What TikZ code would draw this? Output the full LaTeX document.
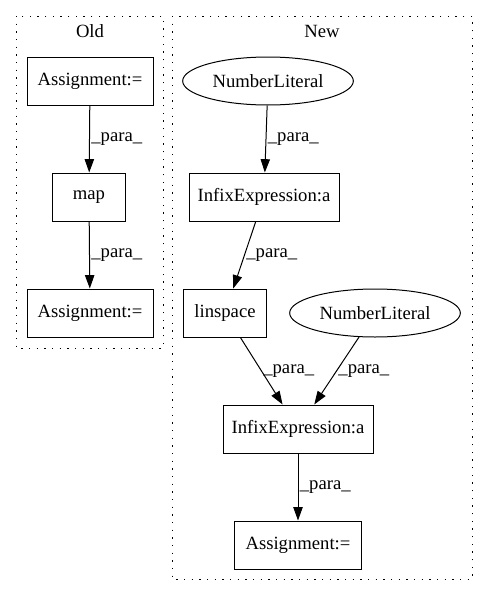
\documentclass[tikz,border=0pt]{standalone}
\usepackage{fontspec}
\setmainfont{Liberation Serif}
\usetikzlibrary{shapes.geometric,arrows.meta}

\begin{document}
\begin{tikzpicture}[
						x=0.75pt,
						y=-0.75pt,
						line width=0.75pt,
						>={Triangle[length=10pt,width=7pt]},
						font=\fontsize{14}{16}\selectfont,
						box/.style={draw, rectangle, minimum height=36pt, inner sep=0pt},
						lit/.style={draw, ellipse, minimum width=128pt, minimum height=36pt, inner sep=0pt},
						flow/.style={->},
						lbl/.style={anchor=west, inner sep=1pt},
						cluster/.style={draw, dash pattern=on 1pt off 4.75pt}
					]
					\useasboundingbox (0,0) rectangle (487,596);
					% clusters
					\draw[cluster] (16,16) rectangle (163,348);
					\node (oldlabel) at (90,31) {Old};
					\draw[cluster] (172,16) rectangle (472,579);
					\node (newlabel) at (322,31) {New};
					% old
					\node[box, minimum width=94.5pt] (oldassign) at (90,81) {Assignment:=};
					\node[box, minimum width=55pt] (map) at (89,197) {map};
					\node[box, minimum width=94.5pt] (oldresult) at (90,313) {Assignment:=};
					% new
					\node[lit] (numlit) at (268,81) {NumberLiteral};
					\node[box, minimum width=112.5pt] (infix) at (264,197) {InfixExpression:a};
					\node[box, minimum width=62pt] (linspace) at (225,313) {linspace};
					\node[lit] (numlitb) at (375,313) {NumberLiteral};
					\node[box, minimum width=112.5pt] (infixb) at (298,429) {InfixExpression:a};
					\node[box, minimum width=95pt] (newassign) at (298,545) {Assignment:=};
					% edges
					\draw[flow] (oldassign) -- node[lbl] {\_para\_} (map);
					\draw[flow] (map) -- node[lbl] {\_para\_} (oldresult);
					\draw[flow] (numlit) -- node[lbl] {\_para\_} (infix);
					\draw[flow] (infix) -- node[lbl] {\_para\_} (linspace);
					\draw[flow] (linspace) -- node[lbl] {\_para\_} (infixb);
					\draw[flow] (numlitb) -- node[lbl] {\_para\_} (infixb);
					\draw[flow] (infixb) -- node[lbl] {\_para\_} (newassign);
				\end{tikzpicture}
\end{document}
